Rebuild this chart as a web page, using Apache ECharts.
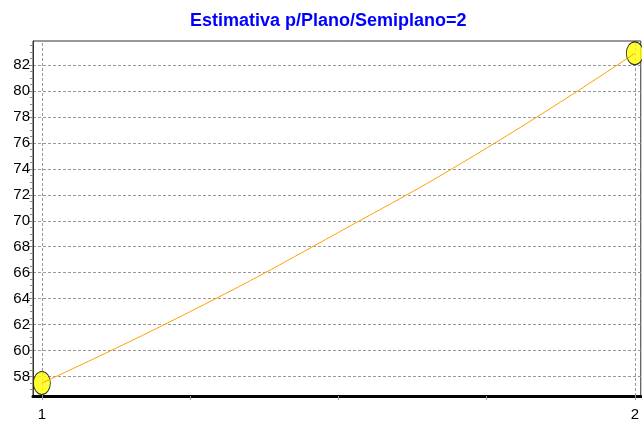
<!DOCTYPE html>
<html>
<head>
<meta charset="utf-8">
<script src="https://cdn.jsdelivr.net/npm/echarts@6/dist/echarts.min.js"></script>
<style>
  html, body { margin: 0; padding: 0; background: #fff; }
  #chart { width: 642px; height: 423px; }
</style>
</head>
<body>
<div id="chart"></div>
<script>
// estimate curve
const curveX = [1, 1.25, 1.5, 1.75, 2]
const curveY = [57.5, 63.0, 69.1, 75.6, 82.9]
// the two marked points
const pointX = [1, 2]
const pointY = [57.5, 82.9]
// tick labels
const xLabels = [1, 2]
const xTicks = [1, 1.25, 1.5, 1.75, 2]
const yLabels = [58, 60, 62, 64, 66, 68, 70, 72, 74, 76, 78, 80, 82]

const yMinor = []
for (let v = 57; v <= 83.5; v += 0.5) yMinor.push(v)

const font = 'Liberation Sans, Arial, sans-serif'

const chart = echarts.init(document.getElementById('chart'))
chart.setOption({
  animation: false,
  title: {
    text: 'Estimativa p/Plano/Semiplano=2',
    left: 185,
    top: 7,
    textStyle: {
      color: '#0000ff',
      fontFamily: font,
      fontSize: 18,
      fontWeight: 'bold'
    }
  },
  grid: {
    left: 33,
    top: 41,
    right: -2,
    bottom: 27,
    show: true,
    borderColor: '#333',
    borderWidth: 1
  },
  xAxis: {
    type: 'value',
    min: 0.985,
    max: 2.01,
    axisLine: { show: true, onZero: false, lineStyle: { color: '#000', width: 3 } },
    axisTick: { show: true, customValues: xTicks, length: 4, lineStyle: { color: '#999' } },
    axisLabel: {
      customValues: xLabels,
      color: '#000',
      fontSize: 15,
      fontFamily: font,
      margin: 11
    },
    splitLine: { show: false }
  },
  yAxis: [{
    type: 'value',
    min: 56.5,
    max: 83.85,
    axisLine: { show: true, lineStyle: { color: '#333', width: 1 } },
    axisTick: { show: true, customValues: yLabels, length: 4, lineStyle: { color: '#555' } },
    axisLabel: {
      customValues: yLabels,
      color: '#000',
      fontSize: 15,
      fontFamily: font,
      margin: 3
    },
    splitLine: { show: true, lineStyle: { color: '#999', type: [3, 2], width: 1 } }
  }, {
    type: 'value',
    position: 'left',
    min: 56.5,
    max: 83.85,
    axisLine: { show: false },
    axisTick: { show: true, customValues: yMinor, length: 3, lineStyle: { color: '#888' } },
    axisLabel: { show: false },
    splitLine: { show: false }
  }],
  series: [
    {
      // vertical grid lines at the labelled x values
      type: 'line',
      data: [],
      markLine: {
        silent: true,
        z: 1,
        symbol: 'none',
        label: { show: false },
        lineStyle: { color: '#999', type: [3, 2], width: 1 },
        data: xLabels.map(v => ({ xAxis: v }))
      },
      z: 1
    },
    {
      type: 'scatter',
      clip: false,
      symbol: 'path://M0,1 A1,1 0 1,1 2,1 A1,1 0 1,1 0,1 Z',
      symbolSize: [17, 23],
      itemStyle: { color: '#ffff00', borderColor: '#000', borderWidth: 1 },
      data: pointX.map((x, i) => [x, pointY[i]]),
      z: 4
    },
    {
      type: 'line',
      smooth: true,
      symbol: 'none',
      lineStyle: { color: '#ffa000', width: 1 },
      data: curveX.map((x, i) => [x, curveY[i]]),
      z: 5
    }
  ]
})
</script>
</body>
</html>
